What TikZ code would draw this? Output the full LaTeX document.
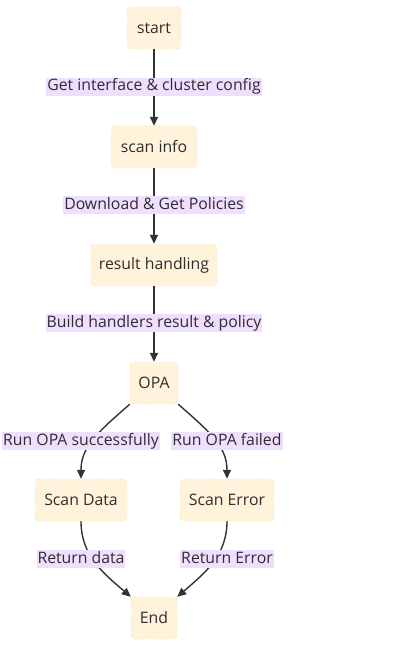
\documentclass[tikz,border=0pt]{standalone}
\usepackage{fontspec}
\setmainfont{Open Sans}
\usetikzlibrary{arrows.meta}
\definecolor{nodefill}{RGB}{255,243,220}
\definecolor{nodeline}{RGB}{240,222,186}
\definecolor{lblfill}{RGB}{240,222,255}
\definecolor{edge}{RGB}{51,51,51}
\tikzset{
  box/.style={draw=nodeline, dashed, fill=nodefill, rounded corners=4pt, minimum height=42pt, inner sep=0pt, font=\fontsize{15.8}{18}\selectfont, text=edge!90!black},
  lbl/.style={fill=lblfill, inner xsep=1pt, inner ysep=0pt, minimum height=18pt, text height=12pt, text depth=4pt, font=\fontsize{15.8}{18}\selectfont, text=edge!90!black},
  arr/.style={draw=edge, line width=1.4pt, -{Triangle[length=9pt,width=8pt]}}
}
\begin{document}
\begin{tikzpicture}[x=1pt,y=-1pt]
\useasboundingbox[fill=white] (0,0) rectangle (408,658);
\node[box, minimum width=54pt] (start) at (154,28) {start};
\node[box, minimum width=86pt] (scan) at (154,147) {scan info};
\node[box, minimum width=126pt] (res) at (154,265) {result handling};
\node[box, minimum width=48pt] (opa) at (154,383) {OPA};
\node[box, minimum width=92pt] (sd) at (81,500) {Scan Data};
\node[box, minimum width=94pt] (se) at (227,500) {Scan Error};
\node[box, minimum width=46pt] (end) at (154,618) {End};

\draw[arr] (start) -- (scan);
\draw[arr] (scan) -- (res);
\draw[arr] (res) -- (opa);
\draw[arr] (opa.south west) .. controls +(-32,28) and +(0,-32) .. (sd.north);
\draw[arr] (opa.south east) .. controls +(32,28) and +(0,-32) .. (se.north);
\draw[arr] (sd.south) .. controls +(0,34) and +(-28,-24) .. (end.north west);
\draw[arr] (se.south) .. controls +(0,34) and +(28,-24) .. (end.north east);

\node[lbl] (l1) at (154,87) {Get interface \& cluster config};
\node[lbl] (l2) at (154,205) {Download \& Get Policies};
\node[lbl] (l3) at (154,323) {Build handlers result \& policy};
\node[lbl] (l4) at (81,441) {Run OPA successfully};
\node[lbl] (l5) at (227,441) {Run OPA failed};
\node[lbl] (l6) at (81,559) {Return data};
\node[lbl] (l7) at (227,559) {Return Error};
\end{tikzpicture}
\end{document}
